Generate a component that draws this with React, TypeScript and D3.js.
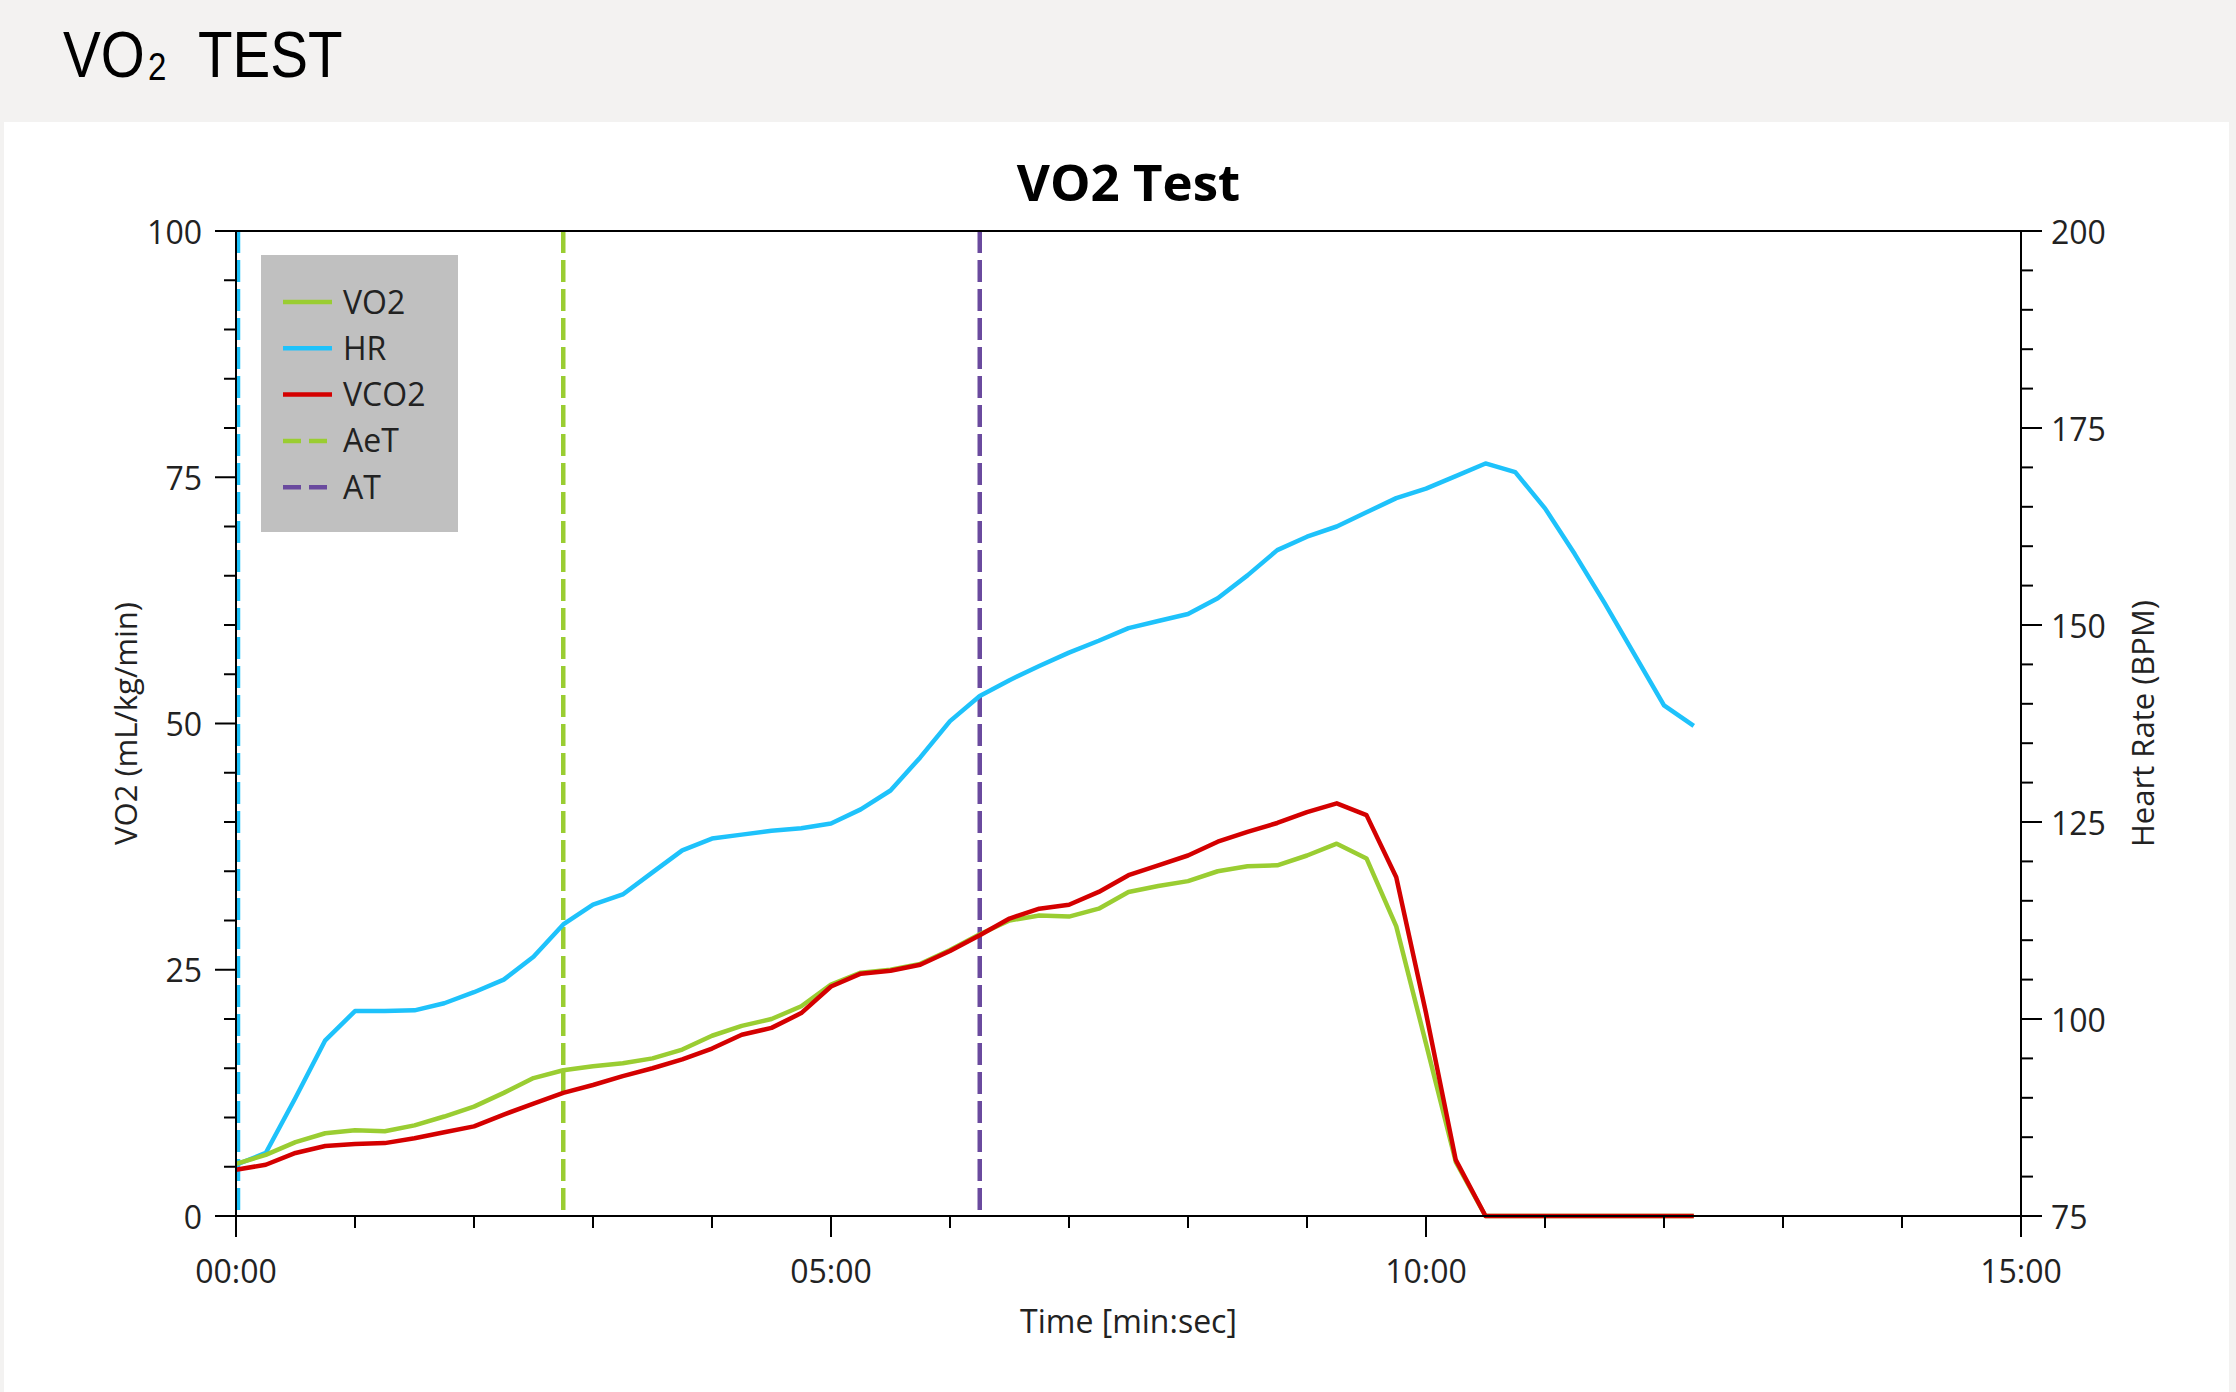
import React from "react";
import * as d3 from "d3";

// ---- data (time in seconds) ----
const times = [0, 15, 30, 45, 60, 75, 90, 105, 120, 135, 150, 165, 180, 195, 210, 225, 240, 255, 270, 285, 300, 315, 330, 345, 360, 375, 390, 405, 420, 435, 450, 465, 480, 495, 510, 525, 540, 555, 570, 585, 600, 615, 630, 645, 660, 675, 690, 705, 720, 735];
const vo2 = [5.3, 6.2, 7.5, 8.4, 8.7, 8.6, 9.2, 10.1, 11.1, 12.5, 14.0, 14.8, 15.2, 15.5, 16.0, 16.9, 18.3, 19.3, 20.0, 21.3, 23.5, 24.7, 25.0, 25.6, 27.0, 28.6, 30.0, 30.5, 30.4, 31.2, 32.9, 33.5, 34.0, 35.0, 35.5, 35.6, 36.6, 37.8, 36.3, 29.4, 17.5, 5.5, 0, 0, 0, 0, 0, 0, 0, 0];
const vco2 = [4.7, 5.2, 6.4, 7.1, 7.3, 7.4, 7.9, 8.5, 9.1, 10.3, 11.4, 12.5, 13.3, 14.2, 15.0, 15.9, 17.0, 18.4, 19.1, 20.6, 23.3, 24.6, 24.9, 25.5, 26.9, 28.5, 30.2, 31.2, 31.6, 32.9, 34.6, 35.6, 36.6, 38.0, 39.0, 39.9, 41.0, 41.9, 40.7, 34.4, 20.6, 5.7, 0, 0, 0, 0, 0, 0, 0, 0];
const hr = [81.5, 83.0, 90.0, 97.3, 101.0, 101.0, 101.1, 102.0, 103.4, 105.0, 107.9, 112.0, 114.5, 115.8, 118.6, 121.4, 122.9, 123.4, 123.9, 124.2, 124.8, 126.6, 129.0, 133.2, 137.8, 141.0, 143.0, 144.8, 146.5, 148.0, 149.6, 150.5, 151.4, 153.4, 156.3, 159.5, 161.2, 162.5, 164.3, 166.1, 167.3, 168.9, 170.5, 169.4, 164.8, 159.0, 152.8, 146.3, 139.8, 137.2];
const aetTime = 165;
const atTime = 375;
const hrStartMarker = 0;

const xTickLabels = ["00:00", "05:00", "10:00", "15:00"];
const xMajorTicks = [0, 300, 600, 900];
const leftTicks = [0, 25, 50, 75, 100];
const rightTicks = [75, 100, 125, 150, 175, 200];
const legendItems = [
  { name: "VO2", color: "#9acd32", dashed: false },
  { name: "HR", color: "#1ec2fb", dashed: false },
  { name: "VCO2", color: "#d40000", dashed: false },
  { name: "AeT", color: "#9acd32", dashed: true },
  { name: "AT", color: "#6a4a9e", dashed: true },
];

const W = 2236;
const H = 1392;
const M = { left: 236, right: 2021, top: 231, bottom: 1216 };
const FONT = "'Open Sans', 'Noto Sans', sans-serif";
const HFONT = "'Liberation Sans', Arial, sans-serif";
const TXT = "#222";
const LW = 4.5;
const HS = 0.87;

export default function App() {
  const x = d3.scaleLinear().domain([0, 900]).range([M.left, M.right]);
  const yL = d3.scaleLinear().domain([0, 100]).range([M.bottom, M.top]);
  const yR = d3.scaleLinear().domain([75, 200]).range([M.bottom, M.top]);

  const lineL = d3
    .line<number>()
    .x((_, i) => x(times[i]))
    .y((d) => yL(d));
  const lineR = d3
    .line<number>()
    .x((_, i) => x(times[i]))
    .y((d) => yR(d));

  const xMinor = d3.range(0, 901, 60);
  const leftMinor = d3.range(0, 101, 5);
  const rightMinor = d3.range(75, 201, 5);

  const markers = [
    { t: hrStartMarker, color: "#1ec2fb" },
    { t: aetTime, color: "#9acd32" },
    { t: atTime, color: "#6a4a9e" },
  ];

  return (
    <div style={{ position: "absolute", left: 0, top: 0, width: W, height: H, overflow: "hidden" }}>
      <svg width={W} height={H} style={{ display: "block" }}>
        <rect x={0} y={0} width={W} height={H} fill="#f3f2f1" />
        <rect x={4} y={122} width={2225} height={H - 122} fill="#ffffff" />
        {/* page header */}
        <g transform={`translate(63,77) scale(${HS},1)`}>
          <text x={0} y={0} fontFamily={HFONT} fontSize={65} fill="#000">
            <tspan>VO</tspan>
            <tspan x={(148 - 63) / HS} dy={3} fontSize={38}>
              2
            </tspan>
            <tspan x={(198 - 63) / HS} dy={-3}>
              TEST
            </tspan>
          </text>
        </g>

        {/* chart title */}
        <text x={(M.left + M.right) / 2} y={201} textAnchor="middle" fontFamily={FONT} fontWeight={700} fontSize={51} fill="#000">
          VO2 Test
        </text>

        {/* vertical markers */}
        {markers.map((m, i) => (
          <line
            key={i}
            x1={x(m.t) + (m.t === 0 ? 2 : 0)}
            x2={x(m.t) + (m.t === 0 ? 2 : 0)}
            y1={M.top}
            y2={M.bottom}
            stroke={m.color}
            strokeWidth={LW}
            strokeDasharray="22,7"
          />
        ))}

        {/* data lines */}
        <path d={lineR(hr) || ""} fill="none" stroke="#1ec2fb" strokeWidth={LW} strokeLinejoin="round" />
        <path d={lineL(vo2) || ""} fill="none" stroke="#9acd32" strokeWidth={LW} strokeLinejoin="round" />
        <path d={lineL(vco2) || ""} fill="none" stroke="#d40000" strokeWidth={LW} strokeLinejoin="round" />

        {/* frame */}
        <line x1={M.left} x2={M.right} y1={M.top} y2={M.top} stroke="#000" strokeWidth={2} />
        <line x1={M.left} x2={M.right} y1={M.bottom} y2={M.bottom} stroke="#000" strokeWidth={2} />
        <line x1={M.left} x2={M.left} y1={M.top} y2={M.bottom} stroke="#000" strokeWidth={2} />
        <line x1={M.right} x2={M.right} y1={M.top} y2={M.bottom} stroke="#000" strokeWidth={2} />

        {/* x ticks */}
        {xMinor.map((t) => {
          const major = xMajorTicks.includes(t);
          return <line key={t} x1={x(t)} x2={x(t)} y1={M.bottom} y2={M.bottom + (major ? 21 : 12)} stroke="#000" strokeWidth={2} />;
        })}
        {xMajorTicks.map((t, i) => (
          <text key={t} x={x(t)} y={1283} textAnchor="middle" fontFamily={FONT} fontSize={32} fill={TXT}>
            {xTickLabels[i]}
          </text>
        ))}
        <text x={(M.left + M.right) / 2} y={1333} textAnchor="middle" fontFamily={FONT} fontSize={32} fill={TXT}>
          Time [min:sec]
        </text>

        {/* left axis */}
        {leftMinor.map((v) => {
          const major = leftTicks.includes(v);
          return <line key={v} x1={M.left - (major ? 21 : 12)} x2={M.left} y1={yL(v)} y2={yL(v)} stroke="#000" strokeWidth={2} />;
        })}
        {leftTicks.map((v) => (
          <text key={v} x={202} y={yL(v) + 1} dy="0.36em" textAnchor="end" fontFamily={FONT} fontSize={32} fill={TXT}>
            {v}
          </text>
        ))}
        <text
          transform={`translate(126,${(M.top + M.bottom) / 2}) rotate(-90)`}
          textAnchor="middle"
          dy="0.36em"
          fontFamily={FONT}
          fontSize={31}
          fill={TXT}
        >
          VO2 (mL/kg/min)
        </text>

        {/* right axis */}
        {rightMinor.map((v) => {
          const major = rightTicks.includes(v);
          return <line key={v} x1={M.right} x2={M.right + (major ? 21 : 12)} y1={yR(v)} y2={yR(v)} stroke="#000" strokeWidth={2} />;
        })}
        {rightTicks.map((v) => (
          <text key={v} x={2051} y={yR(v) + 1} dy="0.36em" textAnchor="start" fontFamily={FONT} fontSize={32} fill={TXT}>
            {v}
          </text>
        ))}
        <text
          transform={`translate(2143,${(M.top + M.bottom) / 2}) rotate(-90)`}
          textAnchor="middle"
          dy="0.36em"
          fontFamily={FONT}
          fontSize={31}
          fill={TXT}
        >
          Heart Rate (BPM)
        </text>

        {/* legend */}
        <rect x={261} y={255} width={197} height={277} fill="#c0c0c0" />
        {legendItems.map((it, i) => {
          const cy = 302 + i * 46.3;
          return (
            <g key={it.name}>
              <line x1={283} x2={332} y1={cy} y2={cy} stroke={it.color} strokeWidth={LW} strokeDasharray={it.dashed ? "18,8" : undefined} />
              <text x={343} y={cy} dy="0.36em" fontFamily={FONT} fontSize={32} fill={TXT}>
                {it.name}
              </text>
            </g>
          );
        })}
      </svg>
    </div>
  );
}
